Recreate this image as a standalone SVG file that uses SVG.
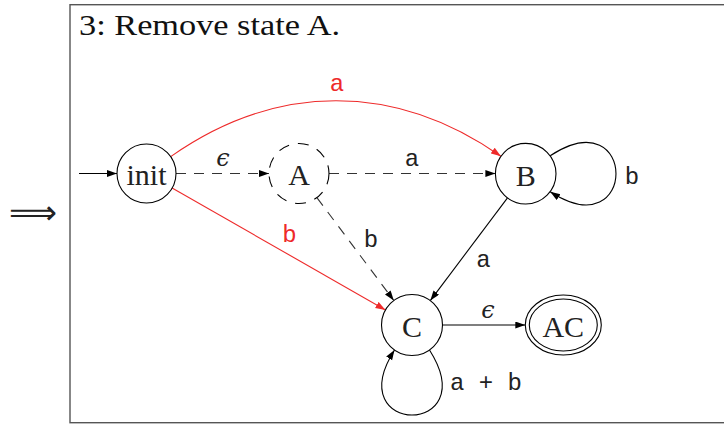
<svg xmlns="http://www.w3.org/2000/svg" width="724" height="426" viewBox="0 0 724 426">
<style>
.frame{fill:none;stroke:#555;stroke-width:1.4}
.node{fill:#fff;stroke:#000;stroke-width:1.1}
.dnode{fill:#fff;stroke:#000;stroke-width:1.1;stroke-dasharray:11 9}
.e{fill:none;stroke:#000;stroke-width:1.1}
.d{stroke:#333;stroke-dasharray:10 8}
.r{stroke:#ee2a2a}
.lbl{font-family:"Liberation Serif",serif;font-size:30px;fill:#222;text-anchor:middle}
.title{font-family:"Liberation Serif",serif;font-size:30px;fill:#111}
.m{font-family:"Liberation Mono",monospace;font-size:24px;fill:#222;text-anchor:middle}
.mr{fill:#ee2a2a}
.eps{font-family:"DejaVu Serif",serif;font-style:italic;font-size:24px;fill:#222;text-anchor:middle}
</style>
<defs>
<marker id="ak" markerUnits="userSpaceOnUse" markerWidth="11" markerHeight="8" refX="10" refY="3.5" orient="auto"><path d="M0,0 L10,3.5 L0,7 Z" fill="#000"/></marker>
<marker id="ar" markerUnits="userSpaceOnUse" markerWidth="11" markerHeight="8" refX="10" refY="3.5" orient="auto"><path d="M0,0 L10,3.5 L0,7 Z" fill="#ee2a2a"/></marker>
</defs>
<text x="33" y="224" font-family="DejaVu Sans,sans-serif" font-size="34" text-anchor="middle" textLength="48" lengthAdjust="spacingAndGlyphs" fill="#222">⟹</text>
<rect class="frame" x="70" y="4.7" width="700" height="418"/>
<text class="title" x="79" y="35" textLength="261" lengthAdjust="spacingAndGlyphs">3: Remove state A.</text>
<g id="connectors">
<path class="e" d="M79,173.5 L117,173.5" marker-end="url(#ak)"/>
<path class="e d" d="M176,173.5 L269,173.5" marker-end="url(#ak)"/>
<path class="e d" d="M329,173.5 L495.4,173.5" marker-end="url(#ak)"/>
<path class="e d" d="M316.9,197.6 L393.8,300.5" marker-end="url(#ak)"/>
<path class="e r" d="M170.7,156.6 C276.6,82.4 395,82.1 500.9,156.3" marker-end="url(#ar)"/>
<path class="e r" d="M172.1,188.1 L385.5,309.9" marker-end="url(#ar)"/>
<path class="e" d="M507.5,197.9 L430.3,300.6" marker-end="url(#ak)"/>
<path class="e" d="M550.2,155.7 C637.9,98.7 637.9,248.7 550.2,191.7" marker-end="url(#ak)"/>
<path class="e" d="M429.5,350 C484.5,436.7 339.5,436.7 394.5,350" marker-end="url(#ak)"/>
<path class="e" d="M442.5,325 L525.3,325" marker-end="url(#ak)"/>
<text class="m mr" x="337" y="91">a</text>
<text class="eps" x="223" y="166">ϵ</text>
<text class="m" x="412" y="166">a</text>
<text class="m" x="632" y="184">b</text>
<text class="m mr" x="289.5" y="242">b</text>
<text class="m" x="371" y="247">b</text>
<text class="m" x="483.5" y="267">a</text>
<text class="m" x="486" y="390">a + b</text>
<text class="eps" x="488" y="318">ϵ</text>
</g>
<g id="node-init"><circle class="node" cx="146.5" cy="173.5" r="29.5"/><text class="lbl" x="146.5" y="184.5">init</text></g>
<g id="node-A"><circle class="dnode" cx="299" cy="173.5" r="30"/><text class="lbl" x="299" y="185">A</text></g>
<g id="node-B"><circle class="node" cx="525.7" cy="173.7" r="30.3"/><text class="lbl" x="525.7" y="185.5">B</text></g>
<g id="node-C"><circle class="node" cx="412" cy="325" r="30.5"/><text class="lbl" x="412" y="336.5">C</text></g>
<g id="node-AC"><ellipse class="node" cx="563.3" cy="325" rx="38" ry="30"/><ellipse class="node" cx="563.3" cy="325" rx="34" ry="26"/><text class="lbl" x="563.3" y="336.5">AC</text></g>
</svg>
